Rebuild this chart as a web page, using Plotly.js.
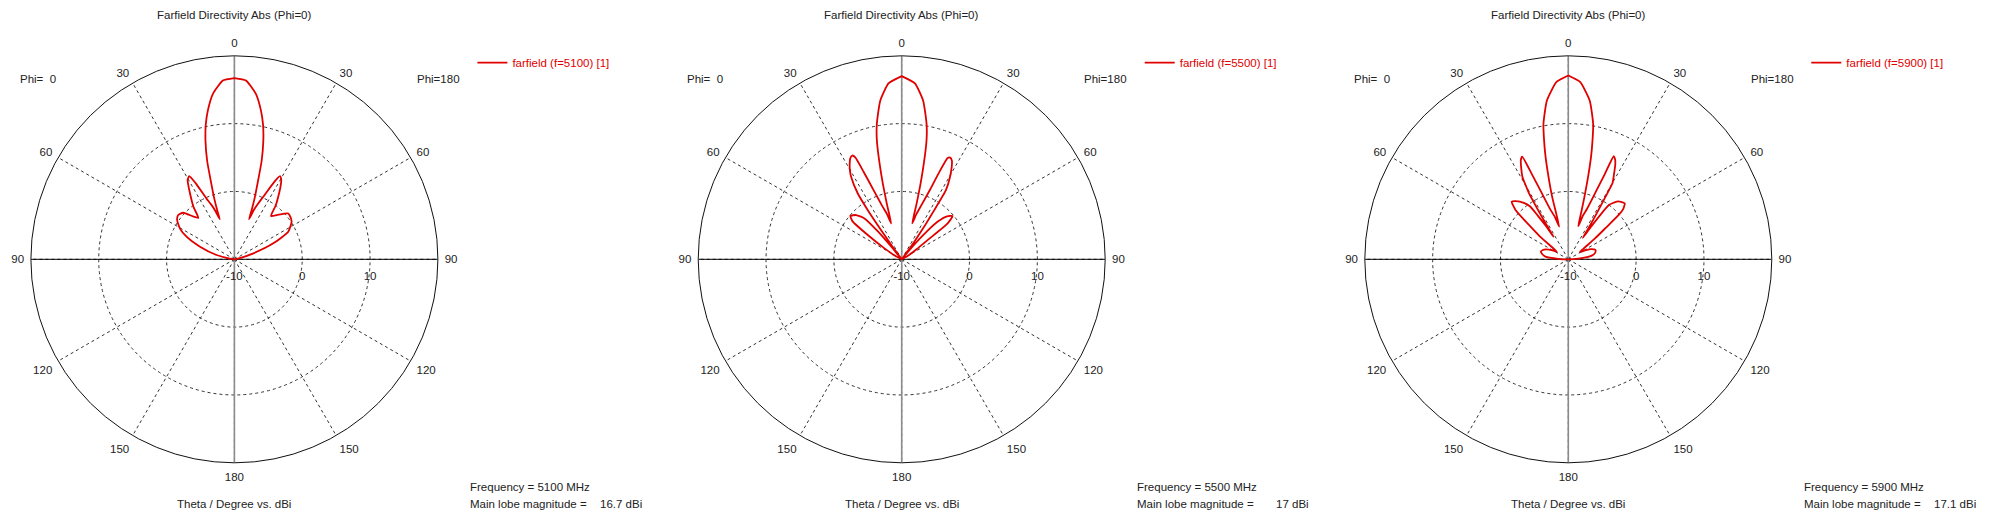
<!DOCTYPE html>
<html><head><meta charset="utf-8">
<script src="https://cdn.plot.ly/plotly-3.0.1.min.js"></script>
<style>html,body{margin:0;padding:0;background:#fff}#chart{width:2000px;height:518px}</style>
</head><body><div id="chart"></div>
<script>
// ---------- data (theta in degrees, directivity in dBi) ----------
const frequencies = [5100, 5500, 5900];
const mainLobeText = ["16.7", "17", "17.1"];

const theta5100_phi0 = [0, 3.7, 7.4, 10.1, 12, 13.7, 15.5, 16.8, 18.3, 19.3, 20, 21.5, 23, 24.7, 27, 28.5, 30.5, 32, 34, 38, 41, 44, 47.7, 51.8, 55.5, 60.4, 64.7, 69.9, 76.5, 81, 85, 90];
const dbi5100_phi0   = [16.7, 16.4, 14.6, 12.3, 10.3, 8.0, 5.0, 2.0, -0.5, -2.3, -3.7, -2.3, -1.2, -0.15, 2.6, 3.95, 3.6, 2.8, 1.7, -0.2, -1.9, -1.2, 0.2, 0.55, 0.25, -0.75, -2.2, -4.6, -7.3, -9.3, -10, -10];
const theta5100_phi180 = [0, 3.7, 7.4, 10.1, 12, 13.7, 15.5, 16.8, 18.3, 19.3, 20, 21.5, 23, 24.8, 27.2, 28.7, 30.5, 32, 34, 37.5, 40.2, 44, 49.6, 53, 56.7, 62.9, 67.7, 72.5, 78, 84, 90];
const dbi5100_phi180   = [16.7, 16.4, 14.6, 12.3, 10.3, 8.0, 5.0, 2.0, -0.5, -2.3, -3.7, -2.2, -1.1, 0.15, 2.8, 3.97, 3.6, 2.9, 1.8, 0.0, -1.65, -0.9, 0.43, 0.35, 0.09, -1.08, -3.8, -7.07, -9.2, -10, -10];

const theta5500_phi0 = [0, 4.3, 7.7, 10.4, 11.8, 13, 14, 15, 16.3, 18, 20, 22.2, 23.5, 24.5, 25.5, 27, 28, 30, 31.5, 33.7, 34.6, 35.2, 35.8, 37.5, 39.5, 40.5, 42.3, 45.8, 49.8, 52.4, 54.4, 57.6, 62, 66, 90];
const dbi5500_phi0   = [17.0, 16.0, 13.6, 10.3, 7.9, 4.5, 1.5, -1.5, -4.5, -3.0, -1.7, 1.14, 4.0, 6.5, 6.95, 6.7, 6.3, 5.3, 4.3, 1.7, -1.2, -4.7, -7.7, -10, -7.6, -4.6, -1.85, -0.64, -0.1, -0.9, -3.85, -7.0, -8.9, -10, -10];
const theta5500_phi180 = [0, 4.3, 7.7, 10.4, 11.8, 13, 14, 15, 16.3, 18, 20, 22.2, 23.3, 24.4, 25.5, 27, 28.4, 30.5, 32.6, 33.5, 34.4, 35.2, 36, 37.5, 40, 42, 43.7, 46.5, 49.6, 52, 53.4, 56, 60, 65, 90];
const dbi5500_phi180   = [17.0, 16.0, 13.6, 10.3, 7.9, 4.5, 1.5, -1.5, -4.5, -3.0, -1.5, 1.2, 4.0, 6.4, 6.6, 6.3, 5.5, 4.0, 2.1, -1.3, -3.8, -5.9, -7.8, -10, -7.5, -4.5, -2.3, -0.8, -0.15, -1.4, -5.2, -7.3, -8.8, -10, -10];

const theta5900_phi0 = [0, 3.8, 7.7, 10.4, 11.5, 12.5, 13.5, 14.5, 15.5, 17.5, 20, 22, 23.2, 24.2, 25.6, 27.5, 29.1, 30.2, 30.8, 31.5, 32.3, 33, 34, 35, 35.9, 38, 42.1, 44.5, 47, 48.9, 51, 54.5, 57, 61, 66, 70, 74.5, 79, 83.3, 87, 90];
const dbi5900_phi0   = [17.1, 16.2, 13.6, 10.3, 7.9, 5.5, 2.5, -0.5, -5.0, -3.5, -2.05, 0.83, 3.75, 6.6, 6.2, 5.0, 3.9, 2.2, 1.3, -1.2, -3.8, -6.0, -4.0, -2.0, -0.4, 0.5, 1.56, 1.9, 0.6, -2.3, -4.5, -7.5, -8.0, -7.2, -6.4, -6.0, -5.8, -6.1, -6.6, -8.5, -10];
const theta5900_phi180 = [0, 3.8, 7.7, 10.4, 11.5, 12.5, 13.5, 14.5, 15.5, 16.7, 18.5, 20.4, 22.2, 23.2, 23.8, 25, 26.2, 28, 30.1, 30.8, 31.5, 33, 34.2, 35, 36.8, 40, 42.5, 45.3, 47.5, 48.6, 50, 52, 55, 58, 62, 66, 71.1, 76, 81, 86, 90];
const dbi5900_phi180   = [17.1, 16.2, 13.6, 10.3, 7.9, 5.5, 2.5, -0.5, -3.0, -4.9, -3.2, -2.0, 0.85, 3.75, 6.6, 6.3, 5.7, 4.4, 3.0, 0.5, -1.5, -4.5, -6.2, -4.0, 0.0, 1.1, 1.5, 1.7, 1.0, 0.0, -2.8, -5.0, -7.3, -8.0, -7.2, -6.3, -5.75, -5.9, -6.5, -8.5, -10];

const angleTickVals = [0, 30, 60, 90, 120, 150, 180, 210, 240, 270, 300, 330];
const angleTickText = ["0", "30", "60", "90", "120", "150", "180", "150", "120", "90", "60", "30"];
const radialTickVals = [-10, 0, 10];
const radialTickText = ["-10", "0", "10"];
const radialRange = [-10, 20];

// ---------- layout constants ----------
const W = 2000, H = 518;
const R = 203.5, CY = 259.3;
const CX = [234.4, 901.7, 1568.3];
const FONT = "Liberation Sans, Arial, sans-serif";
const FS = 11.5;
const TXT = "#222";
const RED = "#e00000";

const series = [
  [theta5100_phi0, dbi5100_phi0, theta5100_phi180, dbi5100_phi180],
  [theta5500_phi0, dbi5500_phi0, theta5500_phi180, dbi5500_phi180],
  [theta5900_phi0, dbi5900_phi0, theta5900_phi180, dbi5900_phi180]
];

function buildCurve(th0, db0, th180, db180) {
  const theta = [], r = [];
  for (let i = th0.length - 1; i >= 0; i--) { theta.push(th0[i]); r.push(db0[i]); }
  for (let i = 0; i < th180.length; i++) { theta.push(360 - th180[i]); r.push(db180[i]); }
  return { theta, r };
}

const traces = [];
const layout = {
  width: W, height: H,
  margin: { l: 0, r: 0, t: 0, b: 0 },
  paper_bgcolor: "#fff",
  font: { family: FONT, size: FS, color: TXT },
  annotations: []
};

const rTop = radialRange[1], rMin = radialRange[0];

series.forEach((s, i) => {
  const pid = i === 0 ? "polar" : "polar" + (i + 1);
  const lid = i === 0 ? "legend" : "legend" + (i + 1);
  const cx = CX[i];
  traces.push({ type: "scatterpolar", subplot: pid, mode: "lines", theta: [0, 0, 180], r: [rTop, rMin, rTop],
    line: { color: "#8a8a8a", width: 1.6 }, hoverinfo: "skip", showlegend: false });
  traces.push({ type: "scatterpolar", subplot: pid, mode: "lines", theta: [90, 90, 270], r: [rTop, rMin, rTop],
    line: { color: "#000", width: 1 }, hoverinfo: "skip", showlegend: false });
  const c = buildCurve(s[0], s[1], s[2], s[3]);
  traces.push({ type: "scatterpolar", subplot: pid, legend: lid, mode: "lines", theta: c.theta, r: c.r,
    name: "farfield (f=" + frequencies[i] + ") [1]", line: { color: RED, width: 1.8, shape: "spline", smoothing: 0.5 } });

  layout[pid] = {
    domain: { x: [(cx - R) / W, (cx + R) / W], y: [(H - CY - R) / H, (H - CY + R) / H] },
    bgcolor: "rgba(0,0,0,0)",
    angularaxis: {
      rotation: 90, direction: "counterclockwise",
      tickmode: "array", tickvals: angleTickVals, ticktext: angleTickText,
      ticks: "outside", ticklen: 4, tickcolor: "rgba(0,0,0,0)",
      showline: true, linecolor: "#111", linewidth: 1,
      showgrid: true, gridcolor: "#333", gridwidth: 1, griddash: "dot",
      tickfont: { family: FONT, size: FS, color: TXT }
    },
    radialaxis: {
      range: radialRange, angle: 0, side: "clockwise",
      tickmode: "array", tickvals: radialTickVals, ticktext: radialTickText,
      ticks: "outside", ticklen: 6, tickcolor: "rgba(0,0,0,0)",
      showline: false, showgrid: true, gridcolor: "#333", gridwidth: 1, griddash: "dot",
      tickfont: { family: FONT, size: FS, color: TXT }
    }
  };
  layout[lid] = {
    x: (cx + 238) / W, y: 1 - 62.7 / H, xanchor: "left", yanchor: "middle",
    bgcolor: "rgba(0,0,0,0)", borderwidth: 0, itemwidth: 30,
    font: { family: FONT, size: FS, color: RED }
  };
  const ann = (text, x, y, xanchor) => layout.annotations.push({
    text, x: x / W, y: 1 - y / H, xref: "paper", yref: "paper", xanchor, yanchor: "middle",
    showarrow: false, font: { family: FONT, size: FS, color: TXT }
  });
  ann("Farfield Directivity Abs (Phi=0)", cx, 15, "center");
  ann("Phi=\u00a0\u00a00", cx - 216.7, 79.3, "left");
  ann("Phi=180", cx + 180.2, 79.3, "left");
  ann("Theta / Degree vs. dBi", cx, 504.3, "center");
  ann("Frequency = " + frequencies[i] + " MHz", cx + 233.5, 486.5, "left");
  ann("Main lobe magnitude =", cx + 233.5, 503.5, "left");
  ann(mainLobeText[i] + " dBi", cx + 409.5, 503.5, "right");
});

Plotly.newPlot("chart", traces, layout, { staticPlot: true, displayModeBar: false });
</script>
</body></html>
